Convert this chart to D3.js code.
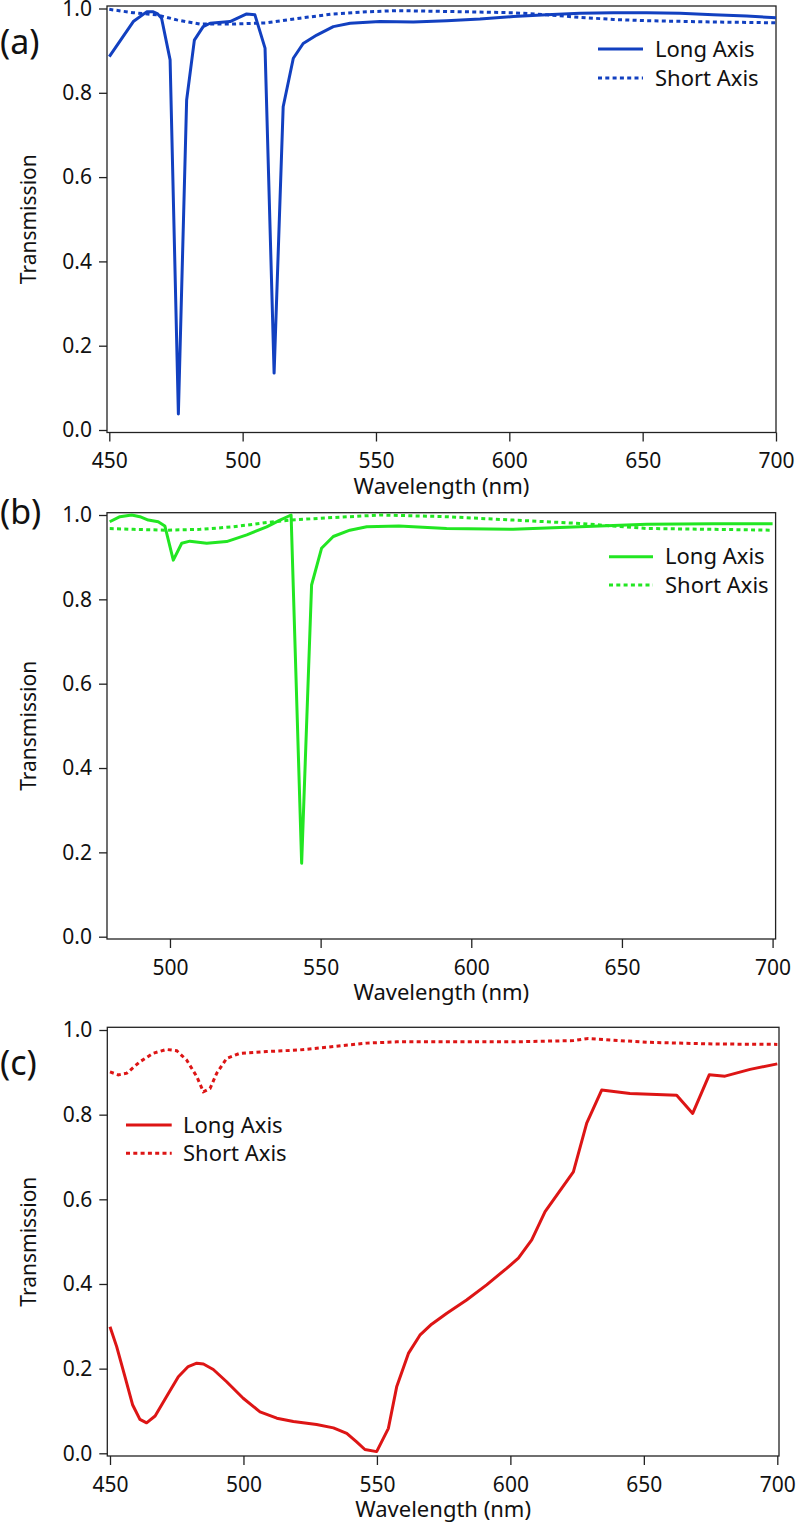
<!DOCTYPE html>
<html><head><meta charset="utf-8">
<script src="https://cdn.jsdelivr.net/npm/d3@7"></script>
<style>
body{margin:0;background:#fff}
text{font-family:"Noto Sans",sans-serif;fill:#111}
</style>
</head><body>
<svg id="chart" width="796" height="1523"></svg>
<script>
// ---------- data ----------
const seriesNames = ["Long Axis", "Short Axis"];
const yTickValues = [0, 0.2, 0.4, 0.6, 0.8, 1.0];
const xTicksA = [450, 500, 550, 600, 650, 700];
const xTicksB = [500, 550, 600, 650, 700];
const xTicksC = [450, 500, 550, 600, 650, 700];

// Panel (a)
const aLongX  = [450,459,464,466.5,468,469.6,472.8,475.9,479,481.9,485.2,487.8,495.3,501.5,504.6,508.4,511.8,515.2,519,522.7,527.8,534,540.3,551.5,564,576.5,589,601.5,614,626.5,639,651.5,664,676.5,689,700];
const aLongY  = [0.886,0.969,0.992,0.992,0.988,0.977,0.878,0.038,0.783,0.925,0.957,0.965,0.969,0.987,0.985,0.906,0.135,0.767,0.882,0.917,0.937,0.957,0.965,0.969,0.968,0.971,0.975,0.981,0.985,0.989,0.990,0.990,0.989,0.985,0.982,0.978];
const aShortX = [450,459,467.8,475.3,484,496.5,509,521.5,534,546.5,557.8,576.5,601.5,614,626.5,639,651.5,676.5,700];
const aShortY = [0.998,0.990,0.985,0.973,0.963,0.963,0.966,0.977,0.987,0.992,0.995,0.993,0.990,0.985,0.979,0.974,0.971,0.968,0.966];

// Panel (b)
const bLongX  = [480,483.4,487.3,490,492.8,496.1,498.3,501.1,503.9,506.6,512.2,518.8,525.5,532.1,536.5,540.2,543.7,547,550.3,554.2,559.7,565.3,576,591.8,613.9,636,658.2,680.3,700];
const bLongY  = [0.984,0.996,1.0,0.996,0.988,0.984,0.974,0.893,0.933,0.938,0.933,0.937,0.953,0.972,0.988,1.0,0.174,0.834,0.921,0.949,0.964,0.972,0.974,0.968,0.966,0.972,0.978,0.979,0.979];
const bShortX = [480,487.8,498.9,510,521,532.1,539.8,554.2,570,591.8,613.9,636,647,658.2,680.3,700];
const bShortY = [0.968,0.966,0.964,0.966,0.972,0.982,0.988,0.994,1.0,0.996,0.988,0.980,0.974,0.968,0.966,0.964];

// Panel (c)
const cLongX  = [450,452.5,455.6,458.5,461.2,463.7,466.9,471.2,475.6,479.3,482.5,485,488.7,493.7,499.9,506.2,512.5,518.7,527.4,533.7,538.7,542.4,545.5,549.9,554.3,557.4,561.8,566.1,570.5,576.2,583.6,591.1,598.6,603,608,613,623.6,628.6,634.2,644.8,662.3,668.3,674.5,680.4,689.8,700];
const cLongY  = [0.299,0.252,0.181,0.114,0.080,0.072,0.088,0.134,0.181,0.205,0.213,0.211,0.198,0.169,0.130,0.098,0.083,0.075,0.068,0.060,0.047,0.027,0.009,0.004,0.059,0.157,0.236,0.279,0.305,0.331,0.362,0.398,0.437,0.461,0.504,0.571,0.665,0.780,0.858,0.850,0.846,0.803,0.894,0.891,0.907,0.920];
const cShortX = [450,453.1,456.3,461.2,466.2,471.2,475,478.7,482.5,485,487.5,490,493.7,498.7,508.7,521.2,533.7,546.2,557.4,576.2,601.1,623.6,629.2,638.6,651.1,676,700];
const cShortY = [0.901,0.894,0.898,0.925,0.945,0.954,0.951,0.929,0.890,0.854,0.862,0.898,0.933,0.945,0.949,0.953,0.961,0.969,0.972,0.972,0.972,0.975,0.980,0.976,0.971,0.967,0.966];

// ---------- layout ----------
const panels = [
  {label:"(a)", labelY:42, color:"#1240c0", xDomain:[450,700], xTicks:xTicksA,
   xRange:[109.3,776], yRange:[430,8.5], frame:{l:107,r:776,t:6,b:432.5},
   long:[aLongX,aLongY], short:[aShortX,aShortY],
   legend:{x1:598,x2:643,tx:655,y1:49,y2:78}},
  {label:"(b)", labelY:512, color:"#22e622", xDomain:[479,701], xTicks:xTicksB,
   xRange:[106.7,775.6], yRange:[936.7,515], frame:{l:107,r:775.6,t:512.7,b:939},
   long:[bLongX,bLongY], short:[bShortX,bShortY],
   legend:{x1:609,x2:653,tx:665,y1:556.7,y2:585}},
  {label:"(c)", labelY:1063, color:"#dd1515", xDomain:[450,700], xTicks:xTicksC,
   xRange:[110,777.3], yRange:[1453.3,1030], frame:{l:107.3,r:779,t:1027.3,b:1456},
   long:[cLongX,cLongY], short:[cShortX,cShortY],
   legend:{x1:126,x2:171.7,tx:183,y1:1125,y2:1153.3}}
];

const svg = d3.select("#chart");
const dash = "4,3.3";

panels.forEach(p => {
  const g = svg.append("g");
  const x = d3.scaleLinear().domain(p.xDomain).range(p.xRange);
  const y = d3.scaleLinear().domain([0,1]).range(p.yRange);
  const f = p.frame;

  // frame
  g.append("rect").attr("x",f.l).attr("y",f.t).attr("width",f.r-f.l).attr("height",f.b-f.t)
    .attr("fill","none").attr("stroke","#222").attr("stroke-width",1.3);

  // left axis
  const ya = g.append("g").attr("transform",`translate(${f.l},0)`)
    .call(d3.axisLeft(y).tickValues(yTickValues).tickFormat(d3.format(".1f")).tickSize(8).tickPadding(7));
  ya.select(".domain").remove();
  ya.selectAll("line").attr("stroke","#222").attr("stroke-width",1.3);
  ya.selectAll("text").style("font-size","21px").style("font-family","'Noto Sans',sans-serif").attr("fill","#111");

  // bottom axis
  const xa = g.append("g").attr("transform",`translate(0,${f.b})`)
    .call(d3.axisBottom(x).tickValues(p.xTicks).tickFormat(d3.format("d")).tickSize(9).tickPadding(12));
  xa.select(".domain").remove();
  xa.selectAll("line").attr("stroke","#222").attr("stroke-width",1.3);
  xa.selectAll("text").style("font-size","21px").style("font-family","'Noto Sans',sans-serif").attr("fill","#111");

  // axis titles
  g.append("text").attr("x",(f.l+f.r)/2).attr("y",f.b+61).attr("text-anchor","middle")
    .style("font-size","22px").text("Wavelength (nm)");
  g.append("text").attr("transform",`translate(36,${(p.yRange[0]+p.yRange[1])/2}) rotate(-90)`)
    .attr("text-anchor","middle").style("font-size","21px").text("Transmission");

  // panel label
  g.append("text").attr("x",0).attr("y",p.labelY).attr("dy","0.35em")
    .style("font-size","34px").text(p.label);

  // lines
  const line = d3.line().x(d=>x(d[0])).y(d=>y(d[1]));
  const toPts = (xs,ys) => xs.map((v,i)=>[v,ys[i]]);
  g.append("path").datum(toPts(p.short[0],p.short[1])).attr("d",line)
    .attr("fill","none").attr("stroke",p.color).attr("stroke-width",3).attr("stroke-dasharray",dash);
  g.append("path").datum(toPts(p.long[0],p.long[1])).attr("d",line)
    .attr("fill","none").attr("stroke",p.color).attr("stroke-width",3).attr("stroke-linejoin","round");

  // legend
  const L = p.legend;
  [[L.y1,null],[L.y2,dash]].forEach(([ly,da],i) => {
    g.append("line").attr("x1",L.x1).attr("x2",L.x2).attr("y1",ly).attr("y2",ly)
      .attr("stroke",p.color).attr("stroke-width",3).attr("stroke-dasharray",da);
    g.append("text").attr("x",L.tx).attr("y",ly).attr("dy","0.35em")
      .style("font-size","22px").text(seriesNames[i]);
  });
});
</script>
</body></html>
